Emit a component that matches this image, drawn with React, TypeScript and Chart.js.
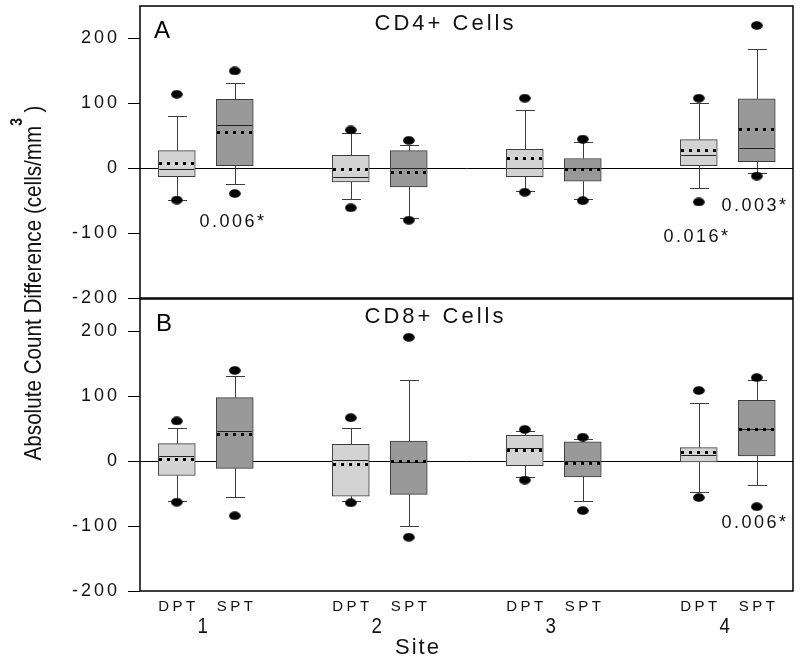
import React, { useEffect, useRef } from "react";
import { Chart, registerables } from "chart.js";

Chart.register(...registerables);

// ---------- data ----------
const SITES = [1, 2, 3, 4];
const GROUPS = ["DPT", "SPT"];
const Y_TICKS = [-200, -100, 0, 100, 200];

// box order: site1 DPT, site1 SPT, site2 DPT, site2 SPT, ...
// Panel A: CD4+ cells
const CD4_Q1 = [-13, 4, -21, -29, -13, -20, 4, 10];
const CD4_Q3 = [27, 106, 20, 27, 29, 15, 44, 107];
const CD4_MEDIAN = [-1, 66, -13, 0, 1, 0, 20, 31];
const CD4_MEAN = [8, 55, -2, -6, 15, -2, 27, 60];
const CD4_WHISK_LO = [-49, -24, -47, -77, -35, -48, -31, -7];
const CD4_WHISK_HI = [80, 132, 55, 36, 89, 41, 100, 184];
const CD4_OUT_LO = [-49, -39, -61, -80, -37, -50, -52, -12];
const CD4_OUT_HI = [114, 150, 59, 43, 108, 45, 108, 220];
const CD4_P_TEXT = ["0.006*", "0.016*", "0.003*"];
const CD4_P_BOX = [1, 6, 7];
const CD4_P_Y = [-83, -106, -58];

// Panel B: CD8+ cells
const CD8_Q1 = [-22, -11, -54, -51, -7, -24, -1, 8];
const CD8_Q3 = [27, 98, 26, 31, 40, 30, 21, 94];
const CD8_MEDIAN = [8, 47, 2, -1, 21, 0, 10, 49];
const CD8_MEAN = [3, 41, -5, -1, 16, -3, 14, 49];
const CD8_WHISK_LO = [-62, -55, -62, -100, -24, -62, -47, -36];
const CD8_WHISK_HI = [51, 131, 51, 125, 47, 35, 89, 125];
const CD8_OUT_LO = [-63, -84, -64, -117, -29, -76, -56, -70];
const CD8_OUT_HI = [62, 140, 67, 191, 49, 37, 109, 129];
const CD8_P_TEXT = ["0.006*"];
const CD8_P_BOX = [7];
const CD8_P_Y = [-96];

// ---------- styling ----------
const FONT = '"Liberation Sans", Arial, Helvetica, sans-serif';
const DPT_FILL = "#d3d3d3";
const SPT_FILL = "#999999";
const BOX_EDGE = "#3c3c3c";
const WHISKER = "#3c3c3c";
const GROUP_SHIFT = 1 / 6;
const X_MIN = 0.622;
const X_MAX = 4.375;
const Y_MIN = -200;
const Y_MAX = 250;

type Panel = {
  q1: number[]; q3: number[]; median: number[]; mean: number[];
  wlo: number[]; whi: number[]; olo: number[]; ohi: number[];
  pText: string[]; pBox: number[]; pY: number[];
  letter: string; title: string; titleX: number; letterX: number;
};

const PANEL_A: Panel = {
  q1: CD4_Q1, q3: CD4_Q3, median: CD4_MEDIAN, mean: CD4_MEAN,
  wlo: CD4_WHISK_LO, whi: CD4_WHISK_HI, olo: CD4_OUT_LO, ohi: CD4_OUT_HI,
  pText: CD4_P_TEXT, pBox: CD4_P_BOX, pY: CD4_P_Y,
  letter: "A", title: "CD4+ Cells", titleX: 444, letterX: 162,
};
const PANEL_B: Panel = {
  q1: CD8_Q1, q3: CD8_Q3, median: CD8_MEDIAN, mean: CD8_MEAN,
  wlo: CD8_WHISK_LO, whi: CD8_WHISK_HI, olo: CD8_OUT_LO, ohi: CD8_OUT_HI,
  pText: CD8_P_TEXT, pBox: CD8_P_BOX, pY: CD8_P_Y,
  letter: "B", title: "CD8+ Cells", titleX: 434, letterX: 164,
};

function boxPositions(): number[] {
  const xs: number[] = [];
  SITES.forEach((s) => GROUPS.forEach((_, g) => xs.push(s + (g === 0 ? -GROUP_SHIFT : GROUP_SHIFT))));
  return xs;
}

function spacedText(ctx: CanvasRenderingContext2D, str: string, cx: number, cy: number, font: string, spacing: number, color = "#000", sx = 1) {
  ctx.save();
  ctx.font = font;
  (ctx as any).letterSpacing = spacing + "px";
  ctx.fillStyle = color;
  ctx.textAlign = "left";
  ctx.textBaseline = "middle";
  const w = (ctx.measureText(str).width - spacing) * sx;
  ctx.translate(cx - w / 2, cy);
  ctx.scale(sx, 1);
  ctx.fillText(str, 0, 0);
  ctx.restore();
}

function hline(ctx: CanvasRenderingContext2D, x1: number, x2: number, y: number) {
  ctx.beginPath(); ctx.moveTo(x1, y); ctx.lineTo(x2, y); ctx.stroke();
}
function vline(ctx: CanvasRenderingContext2D, x: number, y1: number, y2: number) {
  ctx.beginPath(); ctx.moveTo(x, y1); ctx.lineTo(x, y2); ctx.stroke();
}

function panelPlugin(p: Panel, isBottom: boolean) {
  const xs = boxPositions();
  const half = 18.5;
  const cap = 9.5;
  return {
    id: "panel" + p.letter,
    beforeDraw(chart: any) {
      chart.ctx.letterSpacing = "3px";
    },
    beforeDatasetsDraw(chart: any) {
      const ctx: CanvasRenderingContext2D = chart.ctx;
      (ctx as any).letterSpacing = "0px";
      const { x, y } = chart.scales;
      const a = chart.chartArea;
      ctx.save();
      ctx.strokeStyle = "#000";
      ctx.lineWidth = 1;
      const y0 = Math.round(y.getPixelForValue(0)) + 0.5;
      hline(ctx, a.left, a.right, y0);
      ctx.strokeStyle = WHISKER;
      xs.forEach((xv, i) => {
        const px = Math.round(x.getPixelForValue(xv)) + 0.5;
        const yq1 = y.getPixelForValue(p.q1[i]);
        const yq3 = y.getPixelForValue(p.q3[i]);
        const ylo = Math.round(y.getPixelForValue(p.wlo[i])) + 0.5;
        const yhi = Math.round(y.getPixelForValue(p.whi[i])) + 0.5;
        vline(ctx, px, yq3, yhi);
        vline(ctx, px, yq1, ylo);
        hline(ctx, px - cap, px + cap, yhi);
        hline(ctx, px - cap, px + cap, ylo);
      });
      ctx.restore();
    },
    afterDatasetsDraw(chart: any) {
      const ctx: CanvasRenderingContext2D = chart.ctx;
      const { x, y } = chart.scales;
      const a = chart.chartArea;
      ctx.save();
      xs.forEach((xv, i) => {
        const px = x.getPixelForValue(xv);
        ctx.strokeStyle = "#222";
        ctx.lineWidth = 1;
        const ym = Math.round(y.getPixelForValue(p.median[i])) + 0.5;
        hline(ctx, px - half + 1, px + half - 1, ym);
        ctx.fillStyle = "#000";
        const yv = y.getPixelForValue(p.mean[i]);
        const left = px - half + 2.5;
        const step = (2 * half - 5) / 4;
        for (let k = 0; k < 5; k++) {
          ctx.fillRect(Math.round(left + k * step - 1.5), Math.round(yv - 1.5), 3, 3);
        }
      });
      ctx.strokeStyle = "#000";
      ctx.lineWidth = 1.5;
      ctx.strokeRect(a.left, a.top, a.right - a.left, a.bottom - a.top);
      ctx.restore();

      spacedText(ctx, p.letter, p.letterX, a.top + 25, `24px ${FONT}`, 0);
      spacedText(ctx, p.title, p.titleX, a.top + 18, `22px ${FONT}`, 3, "#111");
      p.pText.forEach((t, k) => {
        const px = x.getPixelForValue(xs[p.pBox[k]]);
        const py = y.getPixelForValue(p.pY[k]);
        spacedText(ctx, t, px - 3, py, `18px ${FONT}`, 2.5, "#111");
      });
    },
    afterDraw(chart: any) {
      if (!isBottom) return;
      const ctx: CanvasRenderingContext2D = chart.ctx;
      const { x } = chart.scales;
      xs.forEach((xv, i) => {
        spacedText(ctx, GROUPS[i % 2], x.getPixelForValue(xv), 607, `15px ${FONT}`, 3.5, "#111");
      });
      SITES.forEach((s) => {
        spacedText(ctx, String(s), x.getPixelForValue(s) - 3, 627, `22px ${FONT}`, 0, "#111", 0.85);
      });
      spacedText(ctx, "Site", 417, 648, `22px ${FONT}`, 2, "#111");

      // y title (condensed)
      ctx.save();
      const main = "Absolute Count Difference (cells/mm";
      const sup = "3";
      const tail = " )";
      const mainFont = `24px ${FONT}`;
      const supFont = `bold 16px ${FONT}`;
      const sx = 0.86;
      ctx.font = mainFont;
      const wMain = ctx.measureText(main).width;
      const wTail = ctx.measureText(tail).width;
      ctx.font = supFont;
      const wSup = ctx.measureText(sup).width;
      const total = wMain + wSup + wTail;
      ctx.translate(41, 283);
      ctx.rotate(-Math.PI / 2);
      ctx.scale(sx, 1);
      ctx.textAlign = "left";
      ctx.textBaseline = "alphabetic";
      ctx.fillStyle = "#111";
      let cx = -total / 2;
      ctx.font = mainFont;
      ctx.fillText(main, cx, 0);
      cx += wMain;
      ctx.font = supFont;
      ctx.fillText(sup, cx, -19);
      cx += wSup;
      ctx.font = mainFont;
      ctx.fillText(tail, cx, 0);
      ctx.restore();
    },
  };
}

function makeConfig(p: Panel, isBottom: boolean, dot: HTMLCanvasElement): any {
  const xs = boxPositions();
  return {
    type: "bar",
    data: {
      datasets: [
        {
          type: "bar",
          data: xs.map((xv, i) => ({ x: xv, y: [p.q1[i], p.q3[i]] })),
          backgroundColor: xs.map((_, i) => (i % 2 === 0 ? DPT_FILL : SPT_FILL)),
          borderColor: BOX_EDGE,
          borderWidth: 1,
          borderSkipped: false,
          barThickness: 37,
          order: 2,
        },
        {
          type: "scatter",
          data: [
            ...xs.map((xv, i) => ({ x: xv, y: p.olo[i] })),
            ...xs.map((xv, i) => ({ x: xv, y: p.ohi[i] })),
          ],
          pointStyle: dot,
          pointRadius: 5,
          order: 1,
        },
      ],
    },
    options: {
      animation: false,
      responsive: false,
      events: [],
      layout: {
        padding: isBottom
          ? { top: 299, bottom: 71, left: 0, right: 7 }
          : { top: 6, bottom: 364, left: 0, right: 7 },
      },
      plugins: { legend: { display: false }, tooltip: { enabled: false } },
      scales: {
        x: { type: "linear", min: X_MIN, max: X_MAX, display: false, offset: false, grid: { offset: false } },
        y: {
          type: "linear",
          min: Y_MIN,
          max: Y_MAX,
          afterBuildTicks: (s: any) => {
            s.ticks = Y_TICKS.map((v) => ({ value: v }));
          },
          afterFit: (s: any) => {
            s.width = 140;
            s.paddingTop = 0;
            s.paddingBottom = 0;
          },
          grid: { drawOnChartArea: false, drawTicks: true, tickLength: 12, color: "#000", lineWidth: 1 },
          border: { display: false },
          ticks: { color: "#111", font: { family: FONT, size: 18 }, padding: 8 },
        },
      },
    },
    plugins: [panelPlugin(p, isBottom)],
  };
}

export default function App() {
  const refA = useRef<HTMLCanvasElement>(null);
  const refB = useRef<HTMLCanvasElement>(null);
  useEffect(() => {
    const dot = document.createElement("canvas");
    dot.width = 12;
    dot.height = 9;
    const dctx = dot.getContext("2d")!;
    dctx.fillStyle = "#000";
    dctx.beginPath();
    dctx.ellipse(6, 4.5, 5.8, 4.3, 0, 0, Math.PI * 2);
    dctx.fill();
    const a = new Chart(refA.current!, makeConfig(PANEL_A, false, dot));
    const b = new Chart(refB.current!, makeConfig(PANEL_B, true, dot));
    return () => {
      a.destroy();
      b.destroy();
    };
  }, []);
  return (
    <div style={{ position: "fixed", left: 0, top: 0, width: 800, height: 662, background: "#fff" }}>
      <canvas ref={refA} width={800} height={662} style={{ position: "absolute", left: 0, top: 0 }} />
      <canvas ref={refB} width={800} height={662} style={{ position: "absolute", left: 0, top: 0 }} />
    </div>
  );
}
